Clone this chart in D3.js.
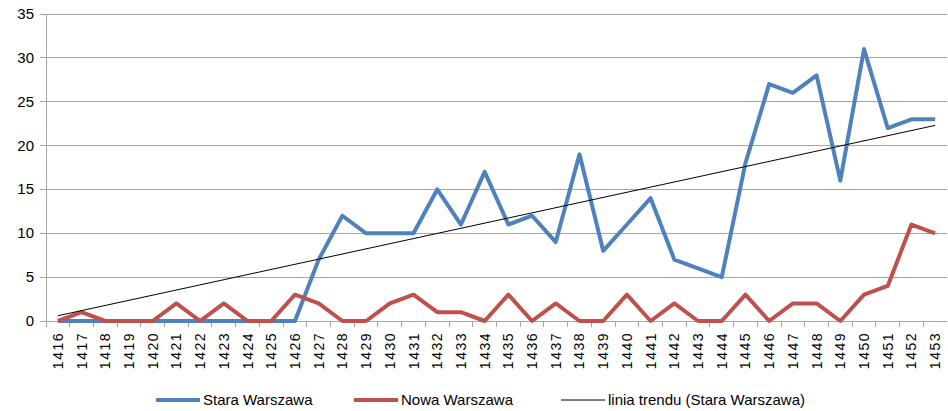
<!DOCTYPE html>
<html>
<head>
<meta charset="utf-8">
<script src="https://cdn.jsdelivr.net/npm/d3@7"></script>
<style>
  body { margin: 0; background: #fff; }
  svg { display: block; font-family: "Liberation Sans Narrow", "Liberation Sans", sans-serif; }
</style>
</head>
<body>
<svg id="chart" width="948" height="411"></svg>
<script>
const years = d3.range(1416, 1454);
const stara = [0, 0, 0, 0, 0, 0, 0, 0, 0, 0, 0, 7, 12, 10, 10, 10, 15, 11, 17, 11, 12, 9, 19, 8, 11, 14, 7, 6, 5, 18, 27, 26, 28, 16, 31, 22, 23, 23];
const nowa = [0, 1, 0, 0, 0, 2, 0, 2, 0, 0, 3, 2, 0, 0, 2, 3, 1, 1, 0, 3, 0, 2, 0, 0, 3, 0, 2, 0, 0, 3, 0, 2, 2, 0, 3, 4, 11, 10];
// trend line end values (first and last year)
const trendYears = [1416, 1453];
const trendValues = [0.6, 22.3];
const yTicks = [0, 5, 10, 15, 20, 25, 30, 35];
const legendLabels = ["Stara Warszawa", "Nowa Warszawa", "linia trendu (Stara Warszawa)"];

const svg = d3.select("#chart");
const plotL = 46, plotR = 947, plotT = 14, plotB = 321;

const x = d3.scaleBand().domain(years).range([plotL, plotR]);
const y = d3.scaleLinear().domain([0, 35]).range([plotB, plotT]);
const cx = (d) => x(d) + x.bandwidth() / 2;

// gridlines
svg.append("g")
  .selectAll("line")
  .data(yTicks)
  .join("line")
  .attr("x1", plotL - 6).attr("x2", plotR)
  .attr("y1", (d) => y(d)).attr("y2", (d) => y(d))
  .attr("stroke", "#a6a6a6").attr("stroke-width", 1)
  .attr("shape-rendering", "crispEdges");

// y axis line
svg.append("line")
  .attr("x1", plotL).attr("x2", plotL)
  .attr("y1", plotT).attr("y2", plotB + 6)
  .attr("stroke", "#a6a6a6").attr("shape-rendering", "crispEdges");

// x category ticks
svg.append("g")
  .selectAll("line")
  .data(years.slice(1))
  .join("line")
  .attr("x1", (d) => x(d)).attr("x2", (d) => x(d))
  .attr("y1", plotB).attr("y2", plotB + 6)
  .attr("stroke", "#a6a6a6").attr("shape-rendering", "crispEdges");

// y labels
svg.append("g")
  .selectAll("text")
  .data(yTicks)
  .join("text")
  .attr("x", 34).attr("y", (d) => y(d) + 5)
  .attr("text-anchor", "end")
  .attr("font-size", 15).attr("fill", "#000")
  .text((d) => d);

// x labels rotated
svg.append("g")
  .selectAll("text")
  .data(years)
  .join("text")
  .attr("transform", (d) => `translate(${cx(d) + 5},${plotB + 11}) rotate(-90)`)
  .attr("text-anchor", "end")
  .attr("font-size", 14).attr("letter-spacing", 1.5).attr("fill", "#000")
  .text((d) => d);

const line = d3.line().x((d, i) => cx(years[i])).y((d) => y(d));

svg.append("path")
  .datum(stara)
  .attr("d", line)
  .attr("fill", "none").attr("stroke", "#4f81bd").attr("stroke-width", 4)
  .attr("stroke-linejoin", "round");

svg.append("path")
  .datum(nowa)
  .attr("d", line)
  .attr("fill", "none").attr("stroke", "#c0504d").attr("stroke-width", 4)
  .attr("stroke-linejoin", "round");

svg.append("path")
  .datum(trendValues)
  .attr("d", d3.line().x((d, i) => cx(trendYears[i])).y((d) => y(d)))
  .attr("fill", "none").attr("stroke", "#000").attr("stroke-width", 1);

// legend
const legend = [
  { label: legendLabels[0], color: "#4f81bd", w: 4, x: 156 },
  { label: legendLabels[1], color: "#c0504d", w: 4, x: 354 },
  { label: legendLabels[2], color: "#000", w: 1, x: 561 },
];
const lg = svg.append("g")
  .selectAll("g")
  .data(legend)
  .join("g")
  .attr("transform", (d) => `translate(${d.x},400)`);
lg.append("line")
  .attr("x1", 0).attr("x2", 44)
  .attr("stroke", (d) => d.color).attr("stroke-width", (d) => d.w);
lg.append("text")
  .attr("x", 47).attr("y", 5)
  .attr("font-size", 15).attr("fill", "#000")
  .text((d) => d.label);
</script>
</body>
</html>
